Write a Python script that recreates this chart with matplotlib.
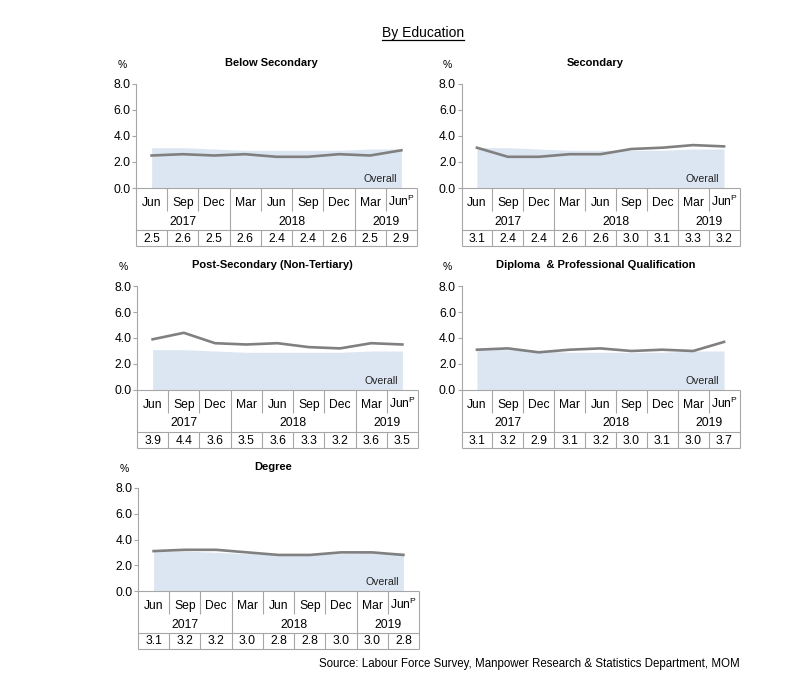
import matplotlib
matplotlib.use("Agg")
import matplotlib.pyplot as plt
from matplotlib.lines import Line2D

plt.rcParams['font.family'] = ['Liberation Sans', 'DejaVu Sans']
plt.rcParams['mathtext.fontset'] = 'custom'
plt.rcParams['mathtext.rm'] = 'Liberation Sans'

# data
months = ['Jun', 'Sep', 'Dec', 'Mar', 'Jun', 'Sep', 'Dec', 'Mar', r'Jun$^{\mathrm{P}}$']
years = ['2017', '2018', '2019']
year_spans = [(0, 2), (3, 6), (7, 8)]
overall = [3.1, 3.1, 3.0, 2.9, 2.9, 2.9, 2.9, 3.0, 3.0]
below_secondary = [2.5, 2.6, 2.5, 2.6, 2.4, 2.4, 2.6, 2.5, 2.9]
secondary = [3.1, 2.4, 2.4, 2.6, 2.6, 3.0, 3.1, 3.3, 3.2]
post_secondary = [3.9, 4.4, 3.6, 3.5, 3.6, 3.3, 3.2, 3.6, 3.5]
diploma = [3.1, 3.2, 2.9, 3.1, 3.2, 3.0, 3.1, 3.0, 3.7]
degree = [3.1, 3.2, 3.2, 3.0, 2.8, 2.8, 3.0, 3.0, 2.8]

titles = ['Below Secondary', 'Secondary', 'Post-Secondary (Non-Tertiary)',
          'Diploma  & Professional Qualification', 'Degree']
series = [below_secondary, secondary, post_secondary, diploma, degree]

# panel boxes in pixels: left, top, width, height
boxes = [(136, 84, 281, 104), (461.5, 84, 278, 104),
         (137, 286, 281, 104), (461.5, 286, 278, 104),
         (138, 488, 281, 103)]

W, H = 800, 697
line_c = '#808080'
area_c = '#dce6f2'
grid_c = '#a6a6a6'

fig = plt.figure(figsize=(W / 100, H / 100), dpi=100)


def px_axes(x, y, w, h):
    return fig.add_axes([x / W, 1 - (y + h) / H, w / W, h / H])


for title, vals, (x0, y0, w, h) in zip(titles, series, boxes):
    xs = list(range(len(vals)))
    ax = px_axes(x0, y0, w, h)
    ax.fill_between(xs, overall, color=area_c, lw=0)
    ax.plot(xs, vals, color=line_c, lw=1.9)
    ax.set_xlim(-0.5, 8.5)
    ax.set_ylim(0, 8)
    ax.set_yticks([0, 2, 4, 6, 8])
    ax.set_yticklabels(['%.1f' % v for v in [0, 2, 4, 6, 8]])
    ax.set_xticks([])
    for s in ['top', 'right', 'bottom']:
        ax.spines[s].set_visible(False)
    ax.spines['left'].set_color(grid_c)
    ax.spines['left'].set_linewidth(0.8)
    ax.tick_params(axis='y', length=3, width=0.8, color=grid_c, labelsize=8.7, pad=1)
    ax.text(7.85, 0.3, 'Overall', ha='right', va='bottom', fontsize=7.6, color='#222222')
    ax.text(-0.5 - 14 / 31, 8 + 19 / 13, '%', ha='center', va='center', fontsize=7.5)
    fig.text((x0 + w / 2 - 5) / W, 1 - (y0 - 21) / H, title, ha='center', va='center',
             fontsize=8, fontweight='bold')

    # category table below the axis
    tax = px_axes(x0, y0 + h, w, 58)
    tax.set_xlim(-0.5, 8.5)
    tax.set_ylim(58, 0)
    tax.axis('off')
    kw = dict(colors=grid_c, lw=0.8, clip_on=False)
    tax.hlines([0, 42, 58], -0.5, 8.5, **kw)
    tax.vlines([-0.5, 8.5], 0, 58, **kw)
    for i in range(8):
        b = i + 0.5
        if any(abs(b - (e + 0.5)) < 1e-6 for _, e in year_spans[:-1]):
            tax.vlines(b, 0, 58, **kw)
        else:
            tax.vlines(b, 0, 23, **kw)
            tax.vlines(b, 42, 58, **kw)
    for i, m in enumerate(months):
        tax.text(i, 17.8, m, ha='center', va='baseline', fontsize=8.7)
        tax.text(i, 50.5, '%.1f' % vals[i], ha='center', va='center', fontsize=8.7)
    for yl, (a, b) in zip(years, year_spans):
        tax.text((a + b) / 2, 33.5, yl, ha='center', va='center', fontsize=8.7)

t = fig.text(423 / W, 1 - 33 / H, 'By Education', ha='center', va='center', fontsize=10)
fig.text(740 / W, 1 - 664 / H,
         'Source: Labour Force Survey, Manpower Research & Statistics Department, MOM',
         ha='right', va='center', fontsize=8.3)

fig.canvas.draw()
bb = t.get_window_extent().transformed(fig.transFigure.inverted())
fig.add_artist(Line2D([bb.x0, bb.x1], [bb.y0 + 0.5 / H, bb.y0 + 0.5 / H],
                      transform=fig.transFigure, color='black', lw=0.9))

fig.savefig('out.png', dpi=100)
